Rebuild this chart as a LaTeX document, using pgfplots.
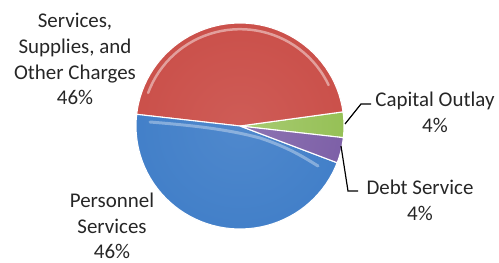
\documentclass[border=0pt]{standalone}
\usepackage{pgfplots}
\pgfplotsset{compat=1.18}
\usepackage{pgfplotstable}
\usepackage{fontspec}
\setmainfont{Carlito}

\definecolor{cgreen}{RGB}{146,190,80}
\definecolor{cred}{RGB}{202,78,72}
\definecolor{cblue}{RGB}{64,126,200}
\definecolor{cpurple}{RGB}{122,92,165}
\definecolor{labelgray}{RGB}{38,38,38}
\colorlet{cgreenD}{cgreen!80!black}\colorlet{cgreenE}{cgreen!55!black}
\colorlet{credD}{cred!82!black}\colorlet{credE}{cred!55!black}
\colorlet{cblueD}{cblue!80!black}\colorlet{cblueE}{cblue!50!black}
\colorlet{cpurpleD}{cpurple!80!black}\colorlet{cpurpleE}{cpurple!55!black}
\colorlet{cgreenL}{cgreen!80!white}\colorlet{credL}{cred!92!white}
\colorlet{cblueL}{cblue!92!white}\colorlet{cpurpleL}{cpurple!85!white}

\newcommand\mkshade[1]{\pgfdeclareradialshading{sh#1}{\pgfpoint{0bp}{0bp}}{color(0bp)=(#1L);color(30bp)=(#1);color(43bp)=(#1);color(48bp)=(#1D);color(50bp)=(#1E)}}
\mkshade{cgreen}\mkshade{cred}\mkshade{cblue}\mkshade{cpurple}

% share of each slice, in per cent, counter-clockwise from the right
\pgfplotstableread{
slice value
cgreen 4
cred 46
cblue 46
cpurple 4
}\piedata

\pgfmathsetmacro{\angA}{-6.5}
\pgfplotstablegetelem{0}{value}\of\piedata \pgfmathsetmacro{\angB}{\angA+3.6*\pgfplotsretval}
\pgfplotstablegetelem{1}{value}\of\piedata \pgfmathsetmacro{\angC}{\angB+3.6*\pgfplotsretval}
\pgfplotstablegetelem{2}{value}\of\piedata \pgfmathsetmacro{\angD}{\angC+3.6*\pgfplotsretval}
\pgfplotstablegetelem{3}{value}\of\piedata \pgfmathsetmacro{\angE}{\angD+3.6*\pgfplotsretval}

\newcommand\cx{240}
\newcommand\cy{126}
\newcommand\rx{104}
\newcommand\ry{103}

\newcommand\slice[3]{%
  \begin{scope}
    \clip (\cx,\cy) -- plot[domain=#1:#2,samples=50,variable=\ang]({\cx+\rx*cos(\ang)},{\cy-\ry*sin(\ang)}) -- cycle;
    \shade[shading=sh#3] (\cx,\cy) ellipse [x radius=\rx, y radius=\ry];
  \end{scope}
  \draw[white, line width=1.1pt, line join=round] (\cx,\cy) -- plot[domain=#1:#2,samples=50,variable=\ang]({\cx+\rx*cos(\ang)},{\cy-\ry*sin(\ang)}) -- cycle;
}

\begin{document}
\begin{tikzpicture}
\begin{axis}[
  width=499bp, height=263bp, scale only axis,
  xmin=0, xmax=499, ymin=0, ymax=263,
  y dir=reverse, hide axis, clip=false,
]
\path (0,0) rectangle (499,263);
\slice{\angA}{\angB}{cgreen}
\slice{\angB}{\angC}{cred}
\slice{\angC}{\angD}{cblue}
\slice{\angD}{\angE}{cpurple}
% bevel highlights
\draw[white, opacity=0.45, line width=2.5pt, line cap=round]
  plot[domain=25:160,samples=40,variable=\ang]({\cx+0.94*\rx*cos(\ang)},{\cy-0.94*\ry*sin(\ang)});
\draw[white, opacity=0.35, line width=3pt, line cap=round]
  (150,122) .. controls (200,126) and (230,130) .. (260,138) .. controls (290,148) and (305,158) .. (318,166);

% leader lines
\draw[black, line width=1.2pt] (345,124) -- (361,104) -- (371,104);
\draw[black, line width=1.2pt] (341,146) -- (348,191) -- (358,191);

\begin{scope}[every node/.style={align=center, text=labelgray, font=\fontsize{21}{26}\selectfont, inner sep=0pt}]
\node at (75,59) {Services,\\Supplies, and\\Other Charges\\46\%};
\node at (435,112) {Capital Outlay\\4\%};
\node at (420,200) {Debt Service\\4\%};
\node[font=\fontsize{21}{25.5}\selectfont] at (112,226) {Personnel\\Services\\46\%};
\end{scope}
\end{axis}
\end{tikzpicture}
\end{document}
